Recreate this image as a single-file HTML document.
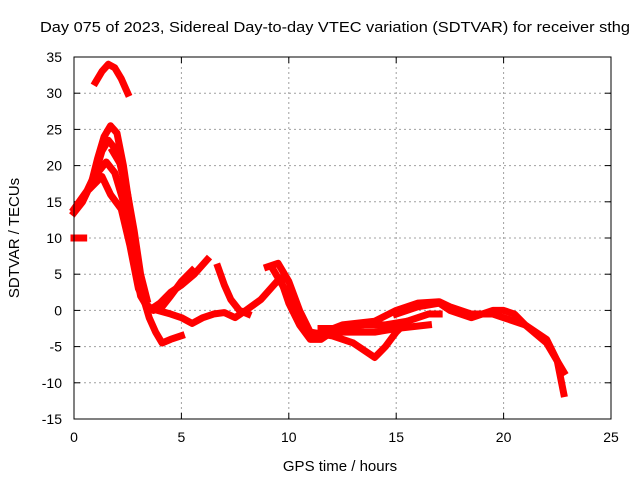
<!DOCTYPE html>
<html><head><meta charset="utf-8"><style>
body{margin:0;background:#fff;}
svg{display:block;font-family:"Liberation Sans",sans-serif;}
</style></head><body>
<svg id="chart" width="640" height="480">
<text x="40" y="32" font-size="15" textLength="590" lengthAdjust="spacingAndGlyphs">Day 075 of 2023, Sidereal Day-to-day VTEC variation (SDTVAR) for receiver sthg</text>
<g id="grid"></g><g id="ticks"></g><g id="series"></g>
<rect x="74" y="57" width="537" height="362" fill="none" stroke="#000" stroke-width="1"/>
<text x="340" y="471" font-size="15" text-anchor="middle">GPS time / hours</text>
<text transform="translate(19,238) rotate(-90)" font-size="15" text-anchor="middle">SDTVAR / TECUs</text>
</svg>
<script>
const xTicks=[0,5,10,15,20,25];
const yTicks=[-15,-10,-5,0,5,10,15,20,25,30,35];
const s1=[[1.0,31.5],[1.3,33],[1.6,34],[1.9,33.5],[2.2,32],[2.5,30]];
const s2=[[0,13.5],[0.4,15],[0.8,17.5],[1.1,21],[1.4,24],[1.7,25.5],[2.0,24.5],[2.3,20],[2.6,14],[2.9,7],[3.2,2],[3.5,-1],[3.8,-3],[4.1,-4.5],[4.5,-4],[5.0,-3.5]];
const s3=[[0,14],[0.6,16.5],[1.0,19],[1.3,22],[1.6,23.5],[2.0,22],[2.4,17],[2.7,10],[3.0,4],[3.3,1],[3.7,0],[4.1,0.5],[4.5,2],[5.0,4],[5.5,5.5]];
const s4=[[1.1,19],[1.5,20.5],[1.9,19],[2.3,15],[2.7,8],[3.1,2],[3.5,0],[4.0,1],[4.5,2.5],[5.0,3.5],[5.6,5],[6.2,7]];
const s5=[[0.8,17],[1.3,18.5],[1.7,16],[2.2,14],[2.6,9],[3.0,3],[3.4,0.5]];
const s6=[[0,10],[0.45,10]];
const s7=[[3.9,0],[4.5,-0.5],[5.0,-1],[5.5,-1.8],[6.0,-1],[6.5,-0.5],[7.0,-0.3],[7.5,-1],[8.0,0],[8.7,1.5],[9.3,3.5],[9.6,4.5],[10.0,1],[10.5,-2],[11,-4],[11.5,-4],[12,-3],[13,-3],[14,-3],[15,-2.5],[16.5,-2]];
const s8=[[6.7,6],[7.0,3.5],[7.3,1.5],[7.7,0],[8.1,-0.5]];
const s9=[[9.0,6],[9.5,6.5],[10,4],[10.5,0],[11,-3],[12,-3.5],[13,-4.5],[14,-6.5],[14.5,-5],[15,-3],[15.5,-1.5],[16.5,-0.5],[17,-0.5]];
const s10=[[9.3,5.5],[10,2],[10.6,-2],[11.2,-3.5],[12.5,-2],[14,-1.5],[15,0],[16,1],[17,1.2],[17.5,0.5],[18.5,-0.5],[19.5,-0.5],[20,-1],[21,-2],[22,-4],[22.5,-7],[22.8,-11.5]];
const s11=[[15,-0.5],[16,0.5],[17,1],[17.5,0],[18.5,-1],[19.5,0],[20,0],[20.5,-0.5],[21,-2],[22,-4.5],[22.8,-8.5]];
const s12=[[11.5,-2.5],[12.5,-2.5],[13.5,-2],[14.5,-2],[15.5,-1.5]];
const s13=[[1.8,22],[2.2,20],[2.5,16],[2.8,11],[3.1,5],[3.4,1.5]];
const seriesList=[s1,s2,s3,s4,s5,s6,s7,s8,s9,s10,s11,s12,s13];
const X=h=>74+h*537/25;
const Y=v=>419-(v+15)*362/50;
const NS="http://www.w3.org/2000/svg";
const grid=document.getElementById('grid'),ticks=document.getElementById('ticks'),ser=document.getElementById('series');
function mk(tag,attrs,parent){const e=document.createElementNS(NS,tag);for(const k in attrs)e.setAttribute(k,attrs[k]);parent.appendChild(e);return e;}
xTicks.forEach(t=>{
  if(t>0&&t<25){const g=mk('line',{x1:X(t),x2:X(t),y1:57,y2:419,stroke:'#a0a0a0','stroke-dasharray':'2,3'},grid);
  
  }
  const l=mk('text',{x:X(t),y:442,'font-size':14,'text-anchor':'middle'},ticks);l.textContent=t;
  
  
  mk('line',{x1:X(t),x2:X(t),y1:419,y2:413,stroke:'#000'},ticks);
  mk('line',{x1:X(t),x2:X(t),y1:57,y2:63,stroke:'#000'},ticks);
});
yTicks.forEach(t=>{
  if(t>-15&&t<35){const g=mk('line',{x1:74,x2:611,y1:Y(t),y2:Y(t),stroke:'#a0a0a0','stroke-dasharray':'2,3'},grid);
  
  }
  const l=mk('text',{x:62,y:Y(t)+5,'font-size':14,'text-anchor':'end'},ticks);l.textContent=t;
  
  
  mk('line',{x1:74,x2:80,y1:Y(t),y2:Y(t),stroke:'#000'},ticks);
  mk('line',{x1:605,x2:611,y1:Y(t),y2:Y(t),stroke:'#000'},ticks);
});
seriesList.forEach((s,i)=>{
  const p=mk('polyline',{points:s.map(d=>X(d[0])+','+Y(d[1])).join(' '),fill:'none',stroke:'#ff0000','stroke-width':7,'stroke-linejoin':'round','stroke-linecap':'square'},ser);
  
  
});
</script>
</body></html>
